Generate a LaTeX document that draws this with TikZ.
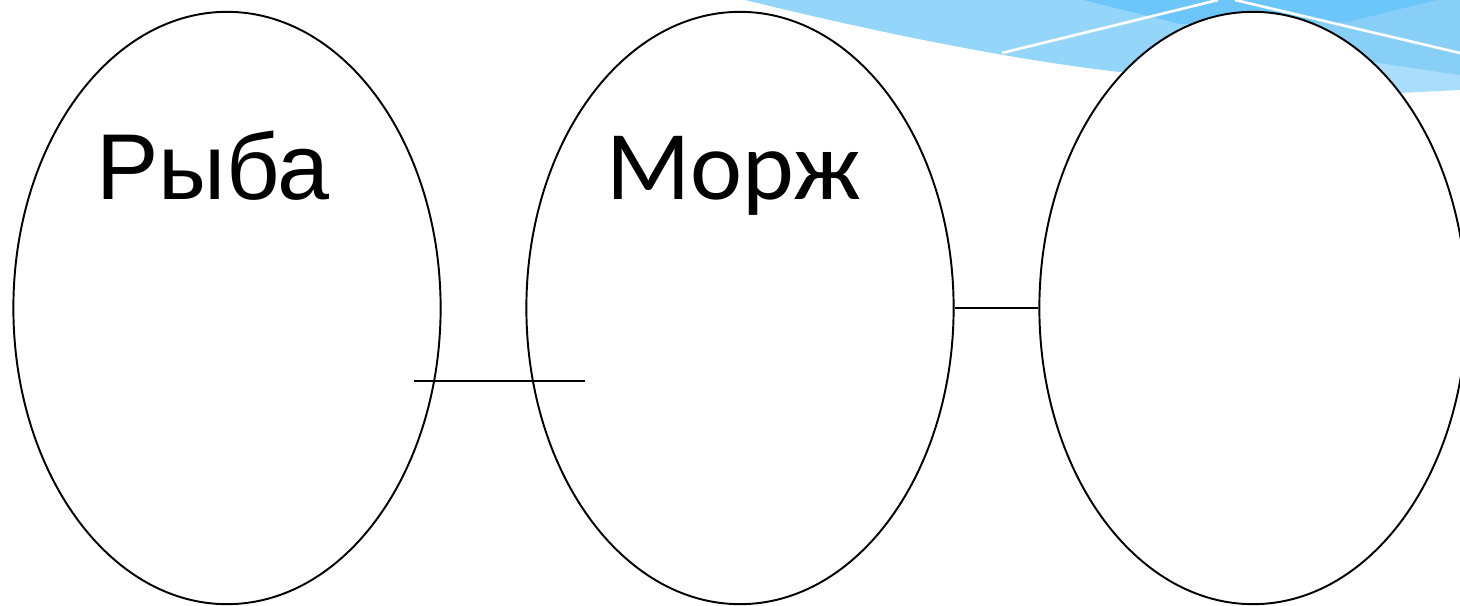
\documentclass[tikz,border=0pt]{standalone}
\usepackage{fontspec}
\setmainfont{Liberation Sans}
\newfontfamily\calibrifont{Carlito}
\usetikzlibrary{shapes.geometric}
\definecolor{skylight}{HTML}{94D6FA}
\definecolor{skymid}{HTML}{88CFF8}
\definecolor{skydark}{HTML}{6DC6F9}
\definecolor{skypale}{HTML}{AADDFB}
\tikzset{
	oval/.style={ellipse,draw=black,fill=white,line width=0.55pt,inner sep=0pt,
		minimum width=4.27cm,minimum height=5.92cm},
	word/.style={anchor=base,inner sep=0pt},
	link/.style={line width=0.55pt}
}

\begin{document}
\begin{tikzpicture}[x=0.01cm,y=-0.01cm]
		\useasboundingbox (0,0) rectangle (1460,606);
		
		% swoosh in the upper right corner
		\fill[skypale] (1250,40) -- (1460,60) -- (1460,90) -- (1400,93) -- (1250,85) -- cycle;
		\fill[skylight] (745,0) .. controls (900,38) and (1030,62) .. (1120,72)
			-- (1373,62) -- (1460,75) -- (1460,0) -- cycle;
		\fill[skymid] (1250,0) -- (1460,0) -- (1460,75) -- (1373,62) -- (1250,40) -- cycle;
		\fill[skydark] (1083,0) -- (1180,24) -- (1347,22) -- (1437,0) -- cycle;
		\draw[white,line width=0.75pt] (1002,53) -- (1218,0);
		\draw[white,line width=0.75pt] (1235,0) -- (1460,53);
		
		\node[oval] (fish) at (227,308) {};
		\node[oval] (walrus) at (740,308) {};
		\node[oval] (third) at (1253,308) {};
		
		\node[word,font=\fontsize{26.6}{30}\selectfont] (fishname) at (213,199) {Рыба};
		\node[word,font=\calibrifont\fontsize{28}{32}\selectfont] (walrusname) at (734,199) {Морж};
		
		\coordinate (linkstart) at (414,381);
		\coordinate (linkend) at (585,381);
		\draw[link] (linkstart) -- (linkend);
		\draw[link] (walrus.east) -- (third.west);
	\end{tikzpicture}
\end{document}
